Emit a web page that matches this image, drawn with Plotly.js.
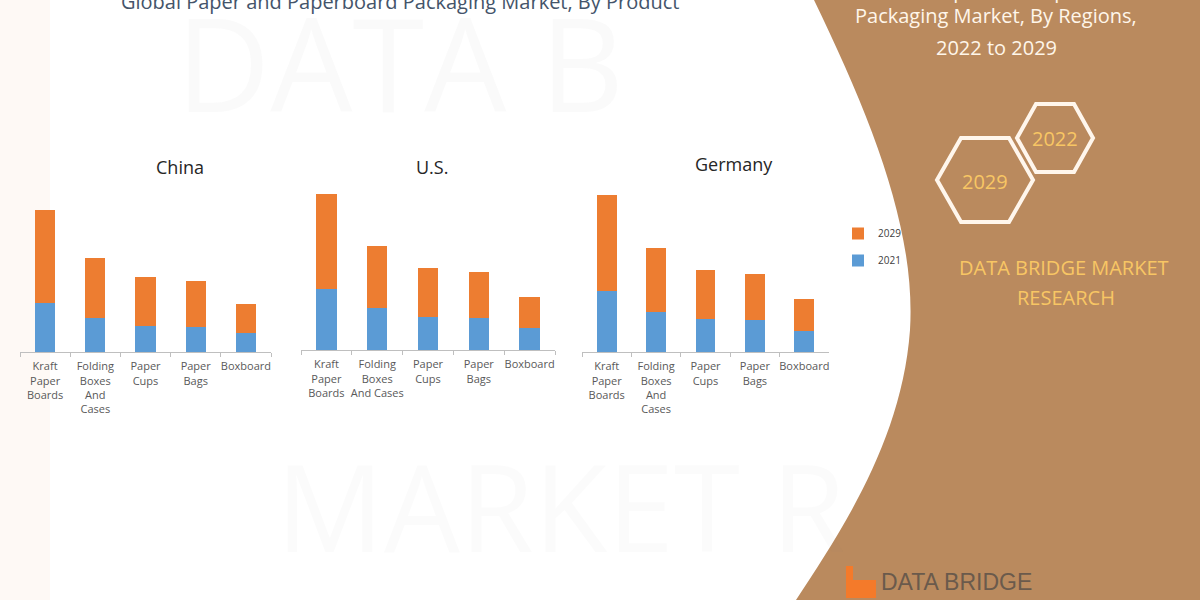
<!DOCTYPE html>
<html>
<head>
<meta charset="utf-8">
<script src="https://cdn.plot.ly/plotly-3.0.1.min.js"></script>
<style>
  html, body { margin: 0; padding: 0; background: #ffffff; }
  #chart { width: 1200px; height: 600px; }
</style>
</head>
<body>
<div id="chart"></div>
<script>
// categories and values (pixel-height units)
const products = ['Kraft Paper Boards', 'Folding Boxes And Cases', 'Paper Cups', 'Paper Bags', 'Boxboard'];
const tickChina = ['Kraft<br>Paper<br>Boards', 'Folding<br>Boxes<br>And<br>Cases', 'Paper<br>Cups', 'Paper<br>Bags', 'Boxboard'];
const tickUS = ['Kraft<br>Paper<br>Boards', 'Folding<br>Boxes<br>And Cases', 'Paper<br>Cups', 'Paper<br>Bags', 'Boxboard'];
const tickGermany = tickChina;

const china2021 = [49, 34, 26, 25, 19];
const china2029 = [93, 60, 49, 46, 29];
const us2021 = [61, 42, 33, 32, 22];
const us2029 = [95, 62, 49, 46, 31];
const germany2021 = [61, 40, 33, 32, 21];
const germany2029 = [96, 64, 49, 46, 32];

const COLOR_2021 = '#5B9BD5';
const COLOR_2029 = '#ED7D31';
const W = 1200, H = 600;
const px = (x) => x / W;
const py = (y) => 1 - y / H;

function barPair(xa, ya, y21, y29, ticks, showLegend) {
  return [
    {
      x: ticks, y: y21, name: '2021', type: 'bar', xaxis: xa, yaxis: ya,
      marker: { color: COLOR_2021 }, legendgroup: 'g2021', legendrank: 2, showlegend: showLegend,
      hovertemplate: '%{x}<br>2021: %{y}<extra></extra>',
    },
    {
      x: ticks, y: y29, name: '2029', type: 'bar', xaxis: xa, yaxis: ya,
      marker: { color: COLOR_2029 }, legendgroup: 'g2029', legendrank: 1, showlegend: showLegend,
      hovertemplate: '%{x}<br>2029: %{y}<extra></extra>',
    },
  ];
}

const traces = [
  ...barPair('x', 'y', china2021, china2029, tickChina, true),
  ...barPair('x2', 'y2', us2021, us2029, tickUS, false),
  ...barPair('x3', 'y3', germany2021, germany2029, tickGermany, false),
];

const xAxisBase = {
  type: 'category',
  showline: true,
  linecolor: '#BFBFBF',
  linewidth: 1,
  ticks: 'outside',
  tickson: 'boundaries',
  ticklen: 4,
  tickcolor: '#BFBFBF',
  ticklabelstandoff: 4,
  tickfont: { family: 'Open Sans, Noto Sans, sans-serif', size: 11, color: '#595959' },
  tickangle: 0,
  showgrid: false,
  zeroline: false,
  fixedrange: true,
};
const yAxisBase = {
  range: [0, 162],
  visible: false,
  showgrid: false,
  zeroline: false,
  fixedrange: true,
};

// domains in pixels: plot bottoms sit on the category axis line
const domY = (base) => [py(base), py(base - 162)];

function hexPath(cx, cy, hw, hh) {
  const q = hw * 0.5;
  const pts = [
    [cx - hw, cy], [cx - q, cy - hh], [cx + q, cy - hh],
    [cx + hw, cy], [cx + q, cy + hh], [cx - q, cy + hh],
  ];
  return 'M ' + pts.map((p) => `${px(p[0])},${py(p[1])}`).join(' L ') + ' Z';
}

const brownPath = `M ${px(814)},${py(0)}` +
  ` C ${px(872)},${py(120)} ${px(916)},${py(230)} ${px(910)},${py(330)}` +
  ` C ${px(902)},${py(440)} ${px(842)},${py(530)} ${px(796)},${py(600)}` +
  ` L ${px(1200)},${py(600)} L ${px(1200)},${py(0)} Z`;

const titleFont = { family: 'Open Sans, Noto Sans, sans-serif', size: 18, color: '#262626' };
const panelFont = { family: 'Open Sans, Noto Sans, sans-serif', size: 20, color: '#FFF6EA' };
const goldFont = { family: 'Open Sans, Noto Sans, sans-serif', size: 20, color: '#F8C664' };

function note(x, y, text, font) {
  return {
    x: px(x), y: py(y), text, font, showarrow: false,
    xref: 'paper', yref: 'paper', xanchor: 'center', yanchor: 'middle',
  };
}

const annotations = [
  // faint watermark
  note(400, 62, 'DATA B', { family: 'Open Sans, sans-serif', size: 130, color: 'rgba(120,120,120,0.035)' }),
  note(560, 505, 'MARKET R', { family: 'Open Sans, sans-serif', size: 120, color: 'rgba(120,120,120,0.03)' }),
  // main title (cut off at top)
  note(400, 2, 'Global Paper and Paperboard Packaging Market, By Product',
    { family: 'Open Sans, Noto Sans, sans-serif', size: 20, color: '#44546A' }),
  // subplot titles
  note(180, 167, 'China', titleFont),
  note(432, 167, 'U.S.', titleFont),
  note(734, 164, 'Germany', titleFont),
  // right panel
  note(1003, -10, 'Global Paper and Paperboard', panelFont),
  note(996, 16, 'Packaging Market, By Regions,', panelFont),
  note(996, 47, '2022 to 2029', panelFont),
  note(1055, 138, '2022', goldFont),
  note(985, 181, '2029', goldFont),
  note(1064, 267, 'DATA BRIDGE MARKET', goldFont),
  note(1066, 297, 'RESEARCH', goldFont),
  note(956, 582, 'DATA BRIDGE', { family: 'Liberation Sans, sans-serif', size: 23, color: '#6A5A4C' }),
];

const shapes = [
  { type: 'rect', xref: 'paper', yref: 'paper', x0: 0, x1: px(50), y0: 0, y1: 1,
    fillcolor: 'rgba(250,215,190,0.15)', line: { width: 0 }, layer: 'below' },
  { type: 'path', xref: 'paper', yref: 'paper', path: brownPath,
    fillcolor: '#BA8A5E', line: { width: 0 }, layer: 'below' },
  { type: 'path', xref: 'paper', yref: 'paper', path: hexPath(1055, 138, 38, 34),
    fillcolor: 'rgba(0,0,0,0)', line: { color: '#FFF6EC', width: 4 } },
  { type: 'path', xref: 'paper', yref: 'paper', path: hexPath(985, 180, 48, 42),
    fillcolor: 'rgba(0,0,0,0)', line: { color: '#FFF6EC', width: 4 } },
  // logo mark
  { type: 'path', xref: 'paper', yref: 'paper',
    path: `M ${px(846)},${py(566)} L ${px(853)},${py(566)} L ${px(853)},${py(580)} L ${px(876)},${py(580)} L ${px(876)},${py(598)} L ${px(846)},${py(598)} Z`,
    fillcolor: '#F47A2A', line: { width: 0 } },
];

const layout = {
  width: W,
  height: H,
  margin: { l: 0, r: 0, t: 0, b: 0 },
  barmode: 'stack',
  bargap: 0.6,
  showlegend: true,
  legend: {
    x: px(838), y: py(219), xanchor: 'left', yanchor: 'top',
    traceorder: 'grouped',
    tracegroupgap: 8,
    font: { family: 'Open Sans, Noto Sans, sans-serif', size: 10, color: '#404040' },
    bgcolor: 'rgba(0,0,0,0)',
    itemwidth: 30,
  },
  xaxis: { ...xAxisBase, domain: [px(20), px(271)], anchor: 'y' },
  yaxis: { ...yAxisBase, domain: domY(352), anchor: 'x' },
  xaxis2: { ...xAxisBase, domain: [px(301), px(555)], anchor: 'y2' },
  yaxis2: { ...yAxisBase, domain: domY(350), anchor: 'x2' },
  xaxis3: { ...xAxisBase, domain: [px(582), px(829)], anchor: 'y3' },
  yaxis3: { ...yAxisBase, domain: domY(352), anchor: 'x3' },
  annotations,
  shapes,
  plot_bgcolor: 'rgba(0,0,0,0)',
  paper_bgcolor: '#ffffff',
};

Plotly.newPlot('chart', traces, layout, { displayModeBar: false, staticPlot: true });
</script>
</body>
</html>
